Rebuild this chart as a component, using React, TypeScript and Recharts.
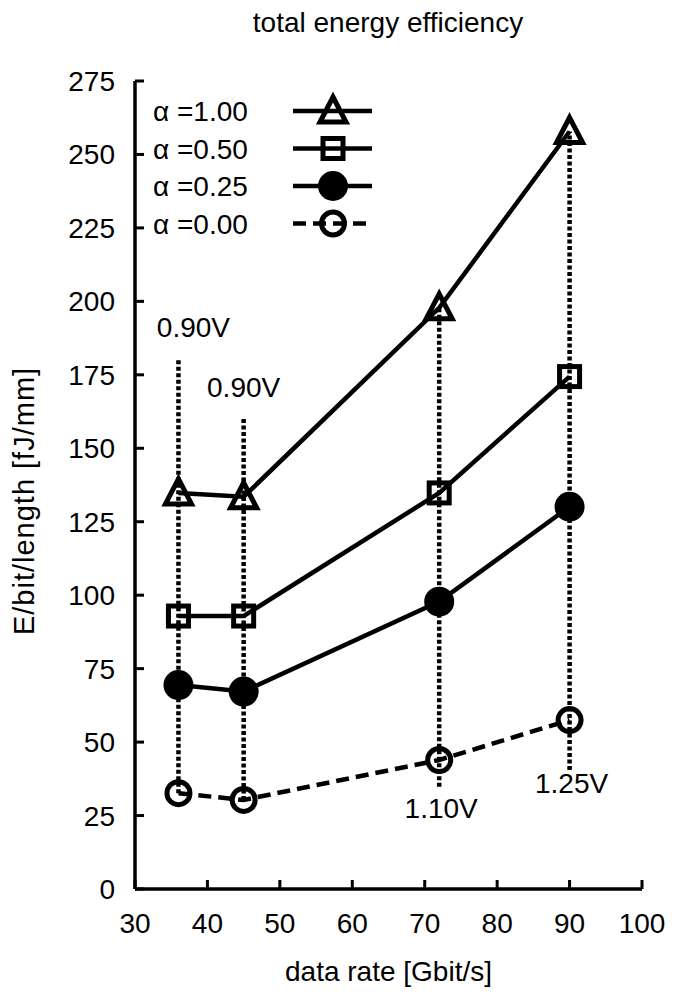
import React from 'react';
import { LineChart, Line, XAxis, YAxis, ReferenceLine, ReferenceDot, Legend, Label } from 'recharts';

// ---------- data ----------
const rates = [36, 45, 72, 90];
const alpha100 = [134.8, 133.5, 197.8, 257.8];
const alpha050 = [92.9, 92.9, 134.8, 174.4];
const alpha025 = [69.4, 67.2, 97.8, 130.1];
const alpha000 = [32.6, 30.3, 43.9, 57.5];
const seriesNames = ['α =1.00', 'α =0.50', 'α =0.25', 'α =0.00'];
const voltageLabels = ['0.90V', '0.90V', '1.10V', '1.25V'];
const dropTop = [180, 160.2, 197.8, 257.8];
const dropBottom = [32.6, 30.3, 34.8, 40.5];
const xTicks = [30, 40, 50, 60, 70, 80, 90, 100];
const yTicks = [0, 25, 50, 75, 100, 125, 150, 175, 200, 225, 250, 275];
const titleText = 'total energy efficiency';
const xLabelText = 'data rate [Gbit/s]';
const yLabelText = 'E/bit/length [fJ/mm]';

const data = rates.map((rate, i) => ({
  rate,
  a100: alpha100[i],
  a050: alpha050[i],
  a025: alpha025[i],
  a000: alpha000[i],
}));

// ---------- styles ----------
const FONT = '"Liberation Sans", Arial, Helvetica, sans-serif';
const FS = 28;
const TICK_LEN = 9;
const AXIS_W = 3.5;
const LINE_W = 4.5;
const MARK_W = 5;

type Kind = 'triangle' | 'square' | 'disc' | 'ring';

const series: { key: string; kind: Kind; dash?: string }[] = [
  { key: 'a100', kind: 'triangle' },
  { key: 'a050', kind: 'square' },
  { key: 'a025', kind: 'disc' },
  { key: 'a000', kind: 'ring', dash: '13 7' },
];

const labelPlacement = [
  { pos: 'top', offset: 23, dx: 15 },
  { pos: 'top', offset: 21, dx: 0 },
  { pos: 'bottom', offset: 11, dx: 2 },
  { pos: 'bottom', offset: 3, dx: 2 },
];

function Marker({ kind, cx, cy }: { kind: Kind; cx?: number; cy?: number }) {
  if (cx == null || cy == null || isNaN(cx) || isNaN(cy)) return null;
  switch (kind) {
    case 'triangle':
      return (
        <path
          d={`M${cx},${cy - 14} L${cx + 13},${cy + 11} L${cx - 13},${cy + 11} Z`}
          fill="none"
          stroke="#000"
          strokeWidth={MARK_W}
          strokeLinejoin="miter"
        />
      );
    case 'square':
      return <rect x={cx - 10} y={cy - 10} width={20} height={20} fill="none" stroke="#000" strokeWidth={MARK_W} />;
    case 'disc':
      return <circle cx={cx} cy={cy} r={15} fill="#000" />;
    default:
      return <circle cx={cx} cy={cy} r={11.5} fill="none" stroke="#000" strokeWidth={MARK_W} />;
  }
}

const BottomTick = (p: any) => (
  <g>
    <line x1={p.x} y1={p.y} x2={p.x} y2={p.y - TICK_LEN} stroke="#000" strokeWidth={3} />
    <text x={p.x} y={p.y + 44} textAnchor="middle" fontSize={FS} fontFamily={FONT} fill="#000">
      {p.payload.value}
    </text>
  </g>
);

const TopTick = (p: any) => (
  <line x1={p.x} y1={p.y} x2={p.x} y2={p.y + TICK_LEN} stroke="#000" strokeWidth={3} />
);

const LeftTick = (p: any) => (
  <g>
    <line x1={p.x} y1={p.y} x2={p.x + TICK_LEN} y2={p.y} stroke="#000" strokeWidth={3} />
    <text x={p.x - 20} y={p.y + 10} textAnchor="end" fontSize={FS} fontFamily={FONT} fill="#000">
      {p.payload.value}
    </text>
  </g>
);

const RightTick = (p: any) => (
  <line x1={p.x} y1={p.y} x2={p.x - TICK_LEN} y2={p.y} stroke="#000" strokeWidth={3} />
);

const YLabel = (p: any) => {
  const vb = p.viewBox || { x: 0, y: 0, width: 0, height: 0 };
  const x = vb.x + 34;
  const y = vb.y + vb.height / 2 + 16;
  return (
    <text
      x={x}
      y={y}
      transform={`rotate(-90, ${x}, ${y})`}
      textAnchor="middle"
      fontSize={29}
      fontFamily={FONT}
      letterSpacing={1}
      fill="#000"
    >
      {yLabelText}
    </text>
  );
};

const Overlay = () => (
  <svg width={675} height={996} style={{ position: 'absolute', left: 0, top: 0, overflow: 'visible' }}>
    <text x={388} y={32} textAnchor="middle" fontSize={FS} fontFamily={FONT} fill="#000">
      {titleText}
    </text>
    {series.map((s, i) => {
      const y = 111 + i * 37.5;
      return (
        <g key={s.key}>
          <text x={153} y={y + 10} fontSize={FS} fontFamily={FONT} fill="#000">
            {seriesNames[i]}
          </text>
          <line x1={293} y1={y} x2={372} y2={y} stroke="#000" strokeWidth={LINE_W} strokeDasharray={s.dash} />
          <Marker kind={s.kind} cx={333} cy={y} />
        </g>
      );
    })}
  </svg>
);

export default function App() {
  return (
    <div style={{ position: 'absolute', left: 0, top: 0, width: 675, height: 996, background: '#fff' }}>
      <LineChart width={675} height={996} data={data} margin={{ top: 81, right: 33, bottom: 47, left: 0 }}>
        <XAxis
          dataKey="rate"
          type="number"
          domain={[30, 100]}
          ticks={xTicks}
          interval={0}
          height={60}
          tickSize={0}
          tickMargin={0}
          tickLine={false}
          axisLine={{ stroke: '#000', strokeWidth: AXIS_W }}
          tick={BottomTick}
          allowDataOverflow
        >
          <Label
            value={xLabelText}
            position="bottom"
            offset={12}
            fill="#000"
            style={{ fontSize: FS, fontFamily: FONT, fill: '#000' }}
          />
        </XAxis>
        <XAxis
          xAxisId="top"
          orientation="top"
          type="number"
          domain={[30, 100]}
          ticks={xTicks}
          interval={0}
          height={0}
          tickSize={0}
          tickMargin={0}
          tickLine={false}
          axisLine={{ stroke: '#000', strokeWidth: AXIS_W }}
          tick={TopTick}
          allowDataOverflow
        />
        <YAxis
          type="number"
          domain={[0, 275]}
          ticks={yTicks}
          interval={0}
          width={135}
          tickSize={0}
          tickMargin={0}
          tickLine={false}
          axisLine={{ stroke: '#000', strokeWidth: AXIS_W }}
          tick={LeftTick}
          allowDataOverflow
          label={<YLabel />}
        />
        <YAxis
          yAxisId="right"
          orientation="right"
          type="number"
          domain={[0, 275]}
          ticks={yTicks}
          interval={0}
          width={0}
          tickSize={0}
          tickMargin={0}
          tickLine={false}
          axisLine={{ stroke: '#000', strokeWidth: AXIS_W }}
          tick={RightTick}
          allowDataOverflow
        />
        {rates.map((r, i) => (
          <ReferenceLine
            key={`drop-${i}`}
            segment={[
              { x: r, y: dropBottom[i] },
              { x: r, y: dropTop[i] },
            ]}
            stroke="#000"
            strokeWidth={4.5}
            strokeDasharray="4 2.5"
          />
        ))}
        {rates.map((r, i) => (
          <ReferenceDot
            key={`vl-${i}`}
            x={r}
            y={labelPlacement[i].pos === 'top' ? dropTop[i] : dropBottom[i]}
            r={0}
            fill="none"
            stroke="none"
            label={{
              value: voltageLabels[i],
              position: labelPlacement[i].pos as any,
              offset: labelPlacement[i].offset,
              dx: labelPlacement[i].dx,
              fill: '#000',
              style: { fontSize: FS, fontFamily: FONT, fill: '#000' },
            }}
          />
        ))}
        {series.map((s, i) => (
          <Line
            key={s.key}
            type="linear"
            dataKey={s.key}
            name={seriesNames[i]}
            stroke="#000"
            strokeWidth={LINE_W}
            strokeDasharray={s.dash}
            dot={(p: any) => <Marker key={`${s.key}-${p.index}`} kind={s.kind} cx={p.cx} cy={p.cy} />}
            activeDot={false}
            isAnimationActive={false}
          />
        ))}
        <Legend
          layout="vertical"
          align="center"
          verticalAlign="middle"
          content={() => <Overlay />}
          wrapperStyle={{ position: 'absolute', left: 0, top: 0, width: 675, height: 996, pointerEvents: 'none' }}
        />
      </LineChart>
    </div>
  );
}
